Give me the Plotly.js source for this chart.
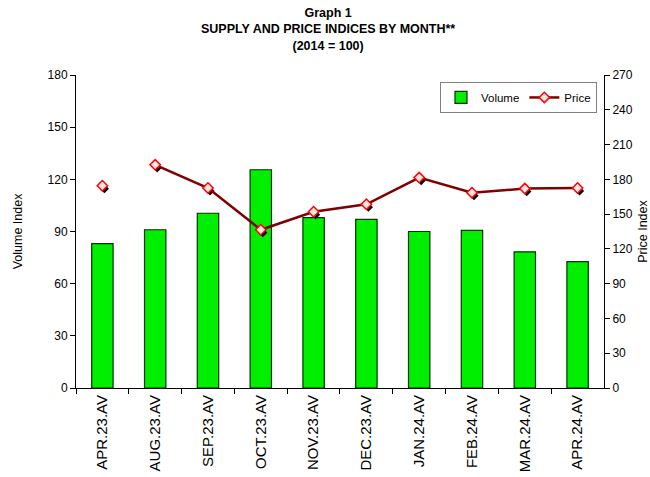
<!DOCTYPE html>
<html>
<head>
<meta charset="utf-8">
<script src="https://cdn.plot.ly/plotly-3.0.1.min.js"></script>
<style>html,body{margin:0;padding:0;background:#fff;}#chart{width:650px;height:477px;}</style>
</head>
<body>
<div id="chart"></div>
<script>
const categories = ["APR.23.AV","AUG.23.AV","SEP.23.AV","OCT.23.AV","NOV.23.AV","DEC.23.AV","JAN.24.AV","FEB.24.AV","MAR.24.AV","APR.24.AV"];
const volume = [83, 91, 100.5, 125.5, 98, 97, 90, 90.6, 78.3, 72.7];
const price = [174.5, 192.5, 172.5, 136.5, 152, 158.5, 181.5, 168.5, 172, 172.5];
const volumeTicks = [0, 30, 60, 90, 120, 150, 180];
const priceTicks = [0, 30, 60, 90, 120, 150, 180, 210, 240, 270];
const titleText = "<b>Graph 1<br>SUPPLY AND PRICE INDICES BY MONTH**<br>(2014 = 100)</b>";

const FONT = "Liberation Sans, Arial, sans-serif";
const priceLine = [null].concat(price.slice(1));
const firstOnly = price.map((v, i) => i === 0 ? v : null);

const markerStyle = {symbol: "diamond", size: 8, color: "#FFE4E4", line: {color: "#FF0000", width: 1.5}};

const traces = [
  {type: "bar", name: "Volume", x: categories, y: volume, xaxis: "x", yaxis: "y", width: 0.405,
   marker: {color: "#00EE00", line: {color: "#003300", width: 1.2}}},
  {type: "scatter", mode: "markers", x: categories, y: price, xaxis: "x3", yaxis: "y3", showlegend: false,
   hoverinfo: "skip", marker: {symbol: "diamond", size: 7, color: "#000000"}},
  {type: "scatter", mode: "lines+markers", name: "Price", x: categories, y: priceLine, xaxis: "x4", yaxis: "y4",
   line: {color: "#800000", width: 2.5}, marker: markerStyle, connectgaps: false},
  {type: "scatter", mode: "markers", name: "Price", x: categories, y: firstOnly, xaxis: "x4", yaxis: "y4",
   showlegend: false, marker: markerStyle}
];

const mainX = [0, 0.9962];
const mainY = [0.0095, 1];
const hiddenCat = {type: "category", range: [-0.5, 9.5], visible: false, fixedrange: true};

const layout = {
  width: 650, height: 477,
  margin: {l: 76, r: 44, t: 75, b: 86},
  paper_bgcolor: "#fff", plot_bgcolor: "rgba(0,0,0,0)",
  font: {family: FONT, color: "#000", size: 12},
  annotations: [{text: titleText, xref: "paper", yref: "paper", x: 0.4755, y: 1.225, xanchor: "center",
                 yanchor: "top", showarrow: false, font: {size: 12.5, family: FONT}, align: "center"}],
  showlegend: true,
  legend: {orientation: "h", x: 0.983, xanchor: "right", y: 0.978, yanchor: "top", itemwidth: 30,
           bgcolor: "#fff", bordercolor: "#808080", borderwidth: 1, font: {size: 11.5},
           traceorder: "normal"},
  xaxis: {type: "category", domain: mainX, range: [-0.5, 9.5], showline: true, linecolor: "#000", linewidth: 1,
          ticks: "outside", tickson: "boundaries", ticklen: 5, tickcolor: "#000", tickangle: -90,
          tickfont: {size: 15}, showgrid: false, automargin: false, zeroline: false},
  yaxis: {domain: mainY, range: [0, 180], tickvals: volumeTicks, showline: true, linecolor: "#000", linewidth: 1,
          ticks: "outside", ticklen: 5, tickcolor: "#000", showgrid: false, zeroline: false,
          title: {text: "Volume Index", font: {size: 12.5}, standoff: 22}, automargin: false},
  yaxis2: {overlaying: "y", side: "right", range: [0, 270], tickvals: priceTicks, showline: true, linecolor: "#000",
           linewidth: 1, ticks: "outside", ticklen: 5, tickcolor: "#000", showgrid: false, zeroline: false,
           title: {text: "Price Index", font: {size: 12.5}, standoff: 9}, automargin: false},
  xaxis3: Object.assign({}, hiddenCat, {domain: [0.0038, 1], anchor: "y3"}),
  yaxis3: {domain: [0, 0.9905], range: [0, 270], visible: false, anchor: "x3", fixedrange: true},
  xaxis4: Object.assign({}, hiddenCat, {domain: mainX, anchor: "y4"}),
  yaxis4: {domain: mainY, range: [0, 270], visible: false, anchor: "x4", fixedrange: true}
};

traces.push({type: "scatter", x: [categories[0]], y: [null], xaxis: "x", yaxis: "y2", showlegend: false, hoverinfo: "skip"});

Plotly.newPlot("chart", traces, layout, {displayModeBar: false, staticPlot: true});
</script>
</body>
</html>
